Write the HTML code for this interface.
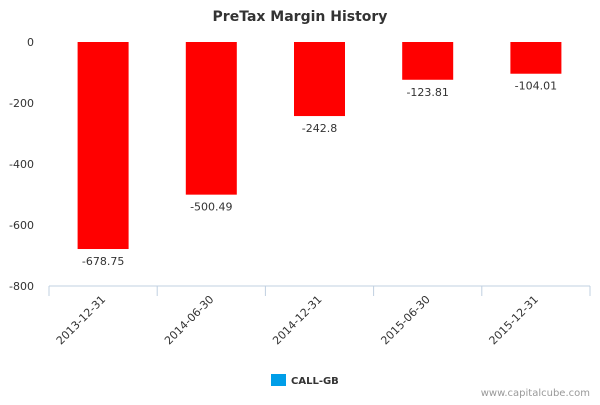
<!DOCTYPE html>
<html><head><meta charset="utf-8"><style>
body{margin:0;background:#fff;font-family:"Liberation Sans","DejaVu Sans",sans-serif}
svg text{font-family:"DejaVu Sans","Liberation Sans",sans-serif}
</style></head><body>
<svg id="chart" width="600" height="400">
<text x="300" y="21" text-anchor="middle" font-size="14" font-weight="bold" fill="#333">PreTax Margin History</text>
<g id="yaxis"></g>
<g id="bars"></g>
<g id="xaxis"></g>
<g>
<rect x="271" y="374" width="15" height="12" fill="#009ee8"/>
<text x="291" y="384" font-size="10" font-weight="bold" fill="#333">CALL-GB</text>
</g>
<text x="590" y="396" text-anchor="end" font-size="10" fill="#999">www.capitalcube.com</text>
</svg>
<script>
const categories=["2013-12-31","2014-06-30","2014-12-31","2015-06-30","2015-12-31"];
const values=[-678.75,-500.49,-242.8,-123.81,-104.01];
const valueLabels=["-678.75","-500.49","-242.8","-123.81","-104.01"];
const yTicks=[0,-200,-400,-600,-800];
const NS="http://www.w3.org/2000/svg";
const L=49,R=590,Y0=42,Y1=286;
const y=v=>Y0+(0-v)/800*(Y1-Y0);
const band=(R-L)/categories.length;
const xc=i=>L+band*(i+0.5);
function mk(t,a,p){const e=document.createElementNS(NS,t);for(const k in a)e.setAttribute(k,a[k]);p.appendChild(e);return e;}
const ya=document.getElementById('yaxis'),bg=document.getElementById('bars'),xa=document.getElementById('xaxis');
yTicks.forEach(t=>{const e=mk('text',{x:34,y:y(t)+4,'text-anchor':'end','font-size':11,fill:'#333'},ya);e.textContent=t;

});
values.forEach((v,i)=>{const w=51;
const r=mk('rect',{x:xc(i)-w/2,y:y(0),width:w,height:y(v)-y(0),fill:'#ff0000'},bg);


const t=mk('text',{x:xc(i),y:y(v)+16,'text-anchor':'middle','font-size':11,fill:'#333'},bg);t.textContent=valueLabels[i];

});
const ax=mk('line',{x1:L,x2:R,y1:Y1,y2:Y1,stroke:'#c0d0e0'},xa);


for(let i=0;i<=categories.length;i++){const tx=L+band*i;const tk=mk('line',{x1:tx,x2:tx,y1:Y1,y2:Y1+10,stroke:'#c0d0e0'},xa);

}
categories.forEach((c,i)=>{const px=xc(i)+3,py=Y1+14;
const t=mk('text',{x:px,y:py,'text-anchor':'end','font-size':11,fill:'#333',transform:`rotate(-45 ${px} ${py})`},xa);t.textContent=c;

});
</script>
</body></html>
